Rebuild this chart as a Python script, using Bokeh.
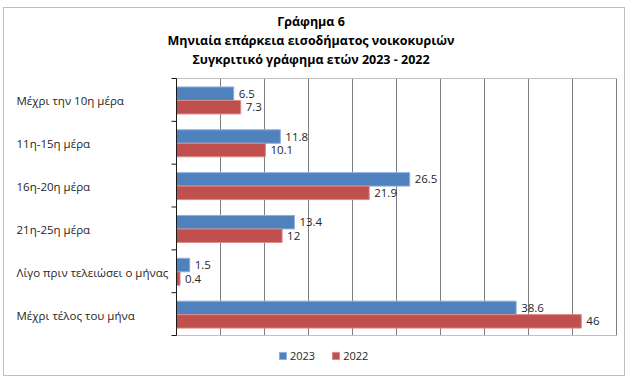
from bokeh.plotting import figure
from bokeh.models import ColumnDataSource, Range1d, Legend, LegendItem, Title
from bokeh.core.properties import value
from bokeh.embed import file_html
from bokeh.resources import INLINE
import math

title_lines = ["Γράφημα 6",
               "Μηνιαία επάρκεια εισοδήματος νοικοκυριών",
               "Συγκριτικό γράφημα ετών 2023 - 2022"]
categories = ["Μέχρι την 10η μέρα", "11η-15η μέρα", "16η-20η μέρα",
              "21η-25η μέρα", "Λίγο πριν τελειώσει ο μήνας", "Μέχρι τέλος του μήνα"]
values_2023 = [6.5, 11.8, 26.5, 13.4, 1.5, 38.6]
values_2022 = [7.3, 10.1, 21.9, 12, 0.4, 46]
series_names = ["2023", "2022"]
x_ticks = [5, 10, 15, 20, 25, 30, 35, 40, 45, 50]
x_max = 50

FONT = "Open Sans"
BLUE = "#4F81BD"
RED = "#C0504D"
TXT = "#262626"

# layout (pixels)
W, H = 622, 369
LABEL_W = 172        # room for the category labels, left of the value axis
AREA_W = 440         # width of the plotting area (0 .. x_max)
AREA_TOP = 70        # top of the plotting area
AREA_H = 257
FRAME_TOP = 59
px_x = AREA_W / x_max

n = len(categories)
px_y = AREA_H / n
centers = [i + 0.5 for i in range(n)]
y23 = [c - 0.145 for c in centers]
y22 = [c + 0.17 for c in centers]
bar_h = 0.315

src23 = ColumnDataSource(dict(y=y23, v=values_2023, t=[f"{v:g}" for v in values_2023]))
src22 = ColumnDataSource(dict(y=y22, v=values_2022, t=[f"{v:g}" for v in values_2022]))
srccat = ColumnDataSource(dict(y=centers, x=[0] * n, t=categories))
bounds = list(range(n + 1))

p = figure(width=W, height=H, output_backend="svg", toolbar_location=None, title=None,
           x_range=Range1d(-LABEL_W / px_x, x_max + 1.0 / px_x),
           y_range=Range1d(n + (H - AREA_TOP - AREA_H) / px_y, -(AREA_TOP - FRAME_TOP) / px_y),
           x_axis_location=None, y_axis_location=None,
           min_border_left=0, min_border_right=W - LABEL_W - AREA_W - 1,
           min_border_top=FRAME_TOP, min_border_bottom=0)
p.margin = (7, 0, 0, 3)
p.styles = {"border": "1px solid #BFBFBF"}
p.background_fill_color = "white"
p.border_fill_color = "white"
p.outline_line_color = None
p.grid.visible = False

# title lines (added from the one nearest the plot outwards)
for line in reversed(title_lines):
    p.add_layout(Title(text=line, align="center", text_font=FONT, text_font_style="bold",
                       text_font_size="12.5px", text_color="black", standoff=0), "above")

# vertical grid lines of the value axis
p.segment(x0=x_ticks, x1=x_ticks, y0=[0] * len(x_ticks), y1=[n] * len(x_ticks),
          line_color="#7F7F7F", line_width=1)

# plot-area top / bottom border
p.segment(x0=[0, 0], x1=[x_max, x_max], y0=[0, n], y1=[0, n], line_color="#BFBFBF", line_width=1)

# bars
r23 = p.hbar(y="y", right="v", left=0, height=bar_h, source=src23,
             fill_color=BLUE, line_color="#8DB0DD", line_width=1)
r22 = p.hbar(y="y", right="v", left=0, height=bar_h, source=src22,
             fill_color=RED, line_color="#D98C8A", line_width=1)

# category axis: line + tick marks between categories
p.segment(x0=[0], x1=[0], y0=[0], y1=[n], line_color="#1a1a1a", line_width=1)
p.ray(x=[0] * len(bounds), y=bounds, length=5, length_units="screen", angle=math.pi,
      line_color="#1a1a1a", line_width=1)

# value labels
for src in (src23, src22):
    p.text(x="v", y="y", text="t", source=src, x_offset=5, text_baseline="middle",
           text_align="left", text_font=value(FONT), text_font_size="11.5px", text_color=TXT)

# category labels
p.text(x="x", y="y", text="t", source=srccat, x_offset=-160, y_offset=1, text_align="left",
       text_baseline="middle", text_font=value(FONT), text_font_size="11.5px", text_color=TXT)

legend = Legend(items=[LegendItem(label=series_names[0], renderers=[r23]),
                       LegendItem(label=series_names[1], renderers=[r22])],
                orientation="horizontal", location=(274, 14), glyph_width=9, glyph_height=9,
                label_standoff=3, spacing=16, padding=0, margin=0, label_height=12,
                border_line_color=None, background_fill_alpha=0,
                label_text_font=FONT, label_text_font_size="11px", label_text_color=TXT)
p.add_layout(legend)

open("out.html", "w").write(file_html(p, INLINE))
